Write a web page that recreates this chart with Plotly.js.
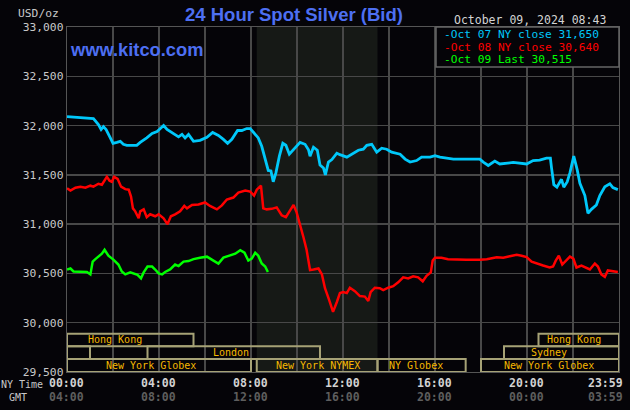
<!DOCTYPE html>
<html>
<head>
<meta charset="utf-8">
<script src="https://cdn.plot.ly/plotly-3.0.1.min.js"></script>
<style>
  html, body { margin: 0; padding: 0; background: #050408; }
  #chart { width: 630px; height: 410px; }
</style>
</head>
<body>
<div id="chart"></div>
<script>
// ---- Data (minutes after midnight NY time, USD/oz) ----
const oct07Minutes = [0,48,69,82,89,95,102,113,120,130,139,147,156,182,191,208,222,235,243,252,261,278,291,300,308,317,330,347,365,380,395,408,419,430,439,445,456,469,478,486,499,508,517,525,532,538,545,554,563,571,580,591,608,621,630,634,643,653,660,669,674,682,691,704,712,730,743,760,773,782,795,808,821,834,847,869,882,895,912,925,947,960,973,1008,1042,1077,1086,1099,1116,1129,1164,1199,1216,1233,1251,1261,1264,1270,1278,1290,1296,1305,1312,1322,1331,1338,1351,1359,1368,1381,1390,1403,1416,1424,1437];
const oct07Price = [32.09,32.08,32.07,32.01,31.96,31.99,31.96,31.875,31.82,31.83,31.84,31.81,31.80,31.80,31.83,31.875,31.92,31.94,31.97,32.00,31.96,31.92,31.885,31.91,31.875,31.91,31.84,31.85,31.88,31.93,31.90,31.86,31.82,31.86,31.91,31.95,31.95,31.97,31.97,31.93,31.875,31.79,31.65,31.545,31.54,31.43,31.52,31.69,31.82,31.80,31.71,31.755,31.83,31.81,31.755,31.69,31.78,31.75,31.60,31.57,31.50,31.63,31.655,31.72,31.705,31.68,31.71,31.75,31.76,31.80,31.81,31.73,31.77,31.76,31.73,31.71,31.66,31.63,31.645,31.68,31.68,31.695,31.68,31.66,31.66,31.66,31.63,31.595,31.64,31.61,31.626,31.61,31.645,31.65,31.67,31.67,31.57,31.40,31.375,31.455,31.375,31.43,31.52,31.69,31.55,31.415,31.29,31.11,31.15,31.195,31.29,31.38,31.41,31.37,31.35];

const oct08Minutes = [0,9,22,35,48,61,69,82,91,104,111,117,123,132,141,152,161,167,172,178,187,191,200,208,217,230,239,252,262,271,282,295,306,313,326,343,360,373,391,404,417,434,447,465,478,488,495,506,512,521,534,547,560,571,582,591,599,608,617,625,634,643,656,665,673,684,694,704,712,721,730,738,751,764,777,786,792,803,816,825,838,851,864,877,890,903,916,928,938,949,954,960,977,994,1016,1042,1077,1095,1121,1138,1155,1173,1186,1199,1212,1225,1242,1259,1268,1275,1283,1292,1303,1312,1321,1329,1342,1355,1364,1377,1385,1394,1403,1411,1424,1437];
const oct08Price = [31.365,31.34,31.37,31.38,31.37,31.39,31.38,31.41,31.40,31.48,31.44,31.43,31.48,31.46,31.38,31.355,31.35,31.28,31.16,31.13,31.06,31.13,31.15,31.07,31.10,31.08,31.10,31.06,31.00,31.08,31.10,31.13,31.185,31.16,31.195,31.20,31.22,31.185,31.15,31.19,31.25,31.27,31.32,31.34,31.33,31.29,31.35,31.39,31.16,31.15,31.155,31.17,31.09,31.07,31.14,31.195,31.12,31.00,30.865,30.74,30.535,30.54,30.55,30.49,30.35,30.23,30.11,30.21,30.30,30.31,30.30,30.355,30.32,30.27,30.265,30.22,30.31,30.355,30.35,30.33,30.355,30.37,30.41,30.46,30.45,30.47,30.46,30.42,30.475,30.51,30.63,30.66,30.66,30.645,30.64,30.64,30.64,30.645,30.665,30.66,30.675,30.69,30.68,30.665,30.62,30.60,30.58,30.56,30.57,30.63,30.68,30.59,30.64,30.67,30.65,30.56,30.58,30.56,30.54,30.60,30.57,30.49,30.465,30.53,30.52,30.515];

const oct09Minutes = [0,9,17,35,52,61,67,74,82,91,98,108,121,134,143,152,165,174,184,193,200,210,222,230,239,248,256,269,282,291,304,317,330,347,365,382,395,408,426,439,452,463,473,482,491,499,508,517,524];
const oct09Price = [30.54,30.55,30.52,30.52,30.515,30.49,30.62,30.645,30.67,30.70,30.74,30.68,30.64,30.59,30.52,30.49,30.51,30.50,30.485,30.45,30.51,30.57,30.57,30.54,30.50,30.49,30.515,30.54,30.59,30.575,30.62,30.625,30.645,30.66,30.67,30.63,30.60,30.66,30.68,30.70,30.735,30.71,30.63,30.65,30.71,30.68,30.60,30.57,30.515];

const legendLabels = ["Oct 07 NY close 31,650", "Oct 08 NY close 30,640", "Oct 09 Last 30,515"];
const yTickValues = [29.5, 30.0, 30.5, 31.0, 31.5, 32.0, 32.5, 33.0];
const yTickLabels = ["29,500", "30,000", "30,500", "31,000", "31,500", "32,000", "32,500", "33,000"];
const timeTickMinutes = [0, 240, 480, 720, 960, 1200, 1439];
const nyTimeLabels = ["00:00", "04:00", "08:00", "12:00", "16:00", "20:00", "23:59"];
const gmtTimeLabels = ["04:00", "08:00", "12:00", "16:00", "20:00", "00:00", "03:59"];

// trading sessions: name, start, end (minutes), row (0 bottom .. 2 top), label centre
const sessionNames = ["Hong Kong", "", "London", "New York Globex", "New York NYMEX", "NY Globex", "New York Globex", "Sydney", "Hong Kong"];
const sessionStart = [0, 0, 210, 0, 495, 810, 1080, 1140, 1230];
const sessionEnd = [330, 60, 660, 480, 810, 1040, 1440, 1440, 1440];
const sessionRow = [2, 1, 1, 0, 0, 0, 0, 1, 2];
const sessionLabelAt = [126, 30, 429, 218, 654, 911, 1258, 1258, 1323];
const nymexShade = [495, 810];

// ---- Styling ----
const BG = "#050408";
const MONO = "DejaVu Sans Mono, monospace";
const colors = ["#00c8fa", "#ff0000", "#00ff00"];
const L = 67, R = 619, T = 27, B = 372;
const W = R - L, H = B - T;
const px = x => (x - L) / W;
const py = y => (B - y) / H;
const rowEdges = [29.5, 29.633, 29.762, 29.889];

const traces = [
  {x: oct07Minutes, y: oct07Price, mode: "lines", line: {color: colors[0], width: 2.8}, hoverinfo: "skip"},
  {x: oct08Minutes, y: oct08Price, mode: "lines", line: {color: colors[1], width: 2.5}, hoverinfo: "skip"},
  {x: oct09Minutes, y: oct09Price, mode: "lines", line: {color: colors[2], width: 2.5}, hoverinfo: "skip"}
];

const shapes = [];
shapes.push({type: "rect", xref: "x", yref: "paper", x0: nymexShade[0], x1: nymexShade[1], y0: 0, y1: 1,
  fillcolor: "#161916", line: {width: 0}, layer: "below"});
for (let i = 0; i < sessionNames.length; i++) {
  shapes.push({type: "rect", xref: "x", yref: "y", x0: sessionStart[i], x1: sessionEnd[i],
    y0: rowEdges[sessionRow[i]], y1: rowEdges[sessionRow[i] + 1],
    line: {color: "#a6a276", width: 2}, fillcolor: "rgba(0,0,0,0)", layer: "between"});
}
// legend box
shapes.push({type: "rect", xref: "paper", yref: "paper", x0: px(436), x1: 1, y0: py(67), y1: 1,
  fillcolor: BG, line: {color: "#666", width: 1.5}, layer: "above"});

const annotations = [];
function ann(text, x, y, opts) {
  annotations.push(Object.assign({text: text, x: x, y: y, xref: "paper", yref: "paper",
    showarrow: false, xanchor: "center", yanchor: "middle"}, opts));
}
ann("24 Hour Spot Silver (Bid)", px(294), py(15), {font: {family: "Liberation Sans, Arial", size: 18.5, weight: "bold", color: "#4d6ff2"}});
ann("www.kitco.com", px(68), py(49), {xanchor: "left", font: {family: "Liberation Sans, Arial", size: 18.3, weight: "bold", color: "#4d6ff2"}});
ann("October 09, 2024 08:43", px(608), py(20), {xanchor: "right", font: {family: MONO, size: 11.5, color: "#d4d4d4"}});
ann("USD/oz", px(61), py(13), {xanchor: "right", font: {family: MONO, size: 11.3, color: "#c8c8c8"}});
const legendY = [33.5, 46.5, 59.5];
for (let i = 0; i < legendLabels.length; i++) {
  ann("-" + legendLabels[i], px(442), py(legendY[i]), {xanchor: "left", height: 12, font: {family: MONO, size: 11.2, color: colors[i]}});
}
for (let i = 0; i < sessionNames.length; i++) {
  if (!sessionNames[i]) continue;
  annotations.push({text: sessionNames[i], x: sessionLabelAt[i], y: (rowEdges[sessionRow[i]] + rowEdges[sessionRow[i] + 1]) / 2,
    xref: "x", yref: "y", showarrow: false, xanchor: "center", yanchor: "middle",
    font: {family: MONO, size: 10, color: "#f5b800"}});
}
ann("NY Time", px(45), py(384), {xanchor: "right", font: {family: MONO, size: 10, color: "#c8c8c8"}});
ann("GMT", px(29), py(397), {xanchor: "right", font: {family: MONO, size: 10, color: "#c8c8c8"}});
for (let i = 0; i < timeTickMinutes.length; i++) {
  const last = i === timeTickMinutes.length - 1;
  const base = {x: timeTickMinutes[i], xref: "x", yref: "paper", showarrow: false,
    xanchor: last ? "right" : "center", xshift: last ? 6 : -1, yanchor: "middle"};
  annotations.push(Object.assign({text: "<b>" + nyTimeLabels[i] + "</b>", y: py(383),
    font: {family: MONO, size: 11.5, color: "#d2d2d2"}}, base));
  annotations.push(Object.assign({text: "<b>" + gmtTimeLabels[i] + "</b>", y: py(397),
    font: {family: MONO, size: 11.5, color: "#5e5e5e"}}, base));
}

const layout = {
  width: 630, height: 410,
  margin: {l: L, r: 630 - R, t: T, b: 410 - B, pad: 0},
  paper_bgcolor: BG, plot_bgcolor: BG,
  showlegend: false,
  xaxis: {range: [0, 1440], tickvals: [0,120,240,360,480,600,720,840,960,1080,1200,1320,1440],
    showticklabels: false, ticks: "", showgrid: true, gridcolor: "#484848", gridwidth: 1.3,
    zeroline: false, showline: true, linecolor: "#555", linewidth: 1.3, mirror: true, fixedrange: true},
  yaxis: {range: [29.5, 33], tickvals: yTickValues, ticktext: yTickLabels, ticks: "",
    tickfont: {family: MONO, size: 11.3, color: "#c8c8c8"},
    showgrid: true, gridcolor: "#484848", gridwidth: 1.3,
    zeroline: false, showline: true, linecolor: "#555", linewidth: 1.3, mirror: true, fixedrange: true},
  shapes: shapes,
  annotations: annotations
};

Plotly.newPlot("chart", traces, layout, {displayModeBar: false, staticPlot: true});
</script>
</body>
</html>
